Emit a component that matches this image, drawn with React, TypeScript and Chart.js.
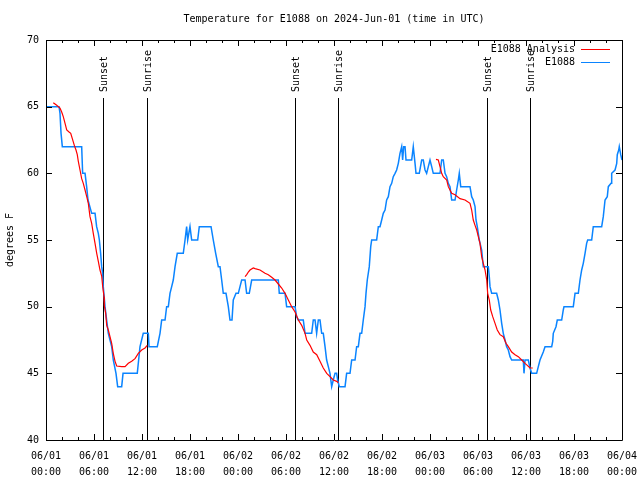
import { useEffect, useRef } from "react";
import { Chart, registerables } from "chart.js";

Chart.register(...registerables);

const TITLE = "Temperature for E1088 on 2024-Jun-01 (time in UTC)";
const Y_LABEL = "degrees F";
const X_MIN = 0;
const X_MAX = 72;
const Y_MIN = 40;
const Y_MAX = 70;
const DATE_LABELS = ["06/01", "06/02", "06/03", "06/04"];

const ANALYSIS_LABEL = "E1088 Analysis";
const OBS_LABEL = "E1088";
const ANALYSIS_COLOR = "#ff0000";
const OBS_COLOR = "#0a84ff";

// Sunset / sunrise markers (hours since 06/01 00:00 UTC)
const eventHours = [7.16, 12.66, 31.13, 36.54, 55.16, 60.5];
const eventLabels = ["Sunset", "Sunrise", "Sunset", "Sunrise", "Sunset", "Sunrise"];

// Observed temperature (hours since 06/01 00:00 UTC, degrees F)
const obsHours = [
  0, 1.63, 1.75, 1.88, 2.04, 4.46, 4.58, 4.88, 5.08, 5.25, 5.71, 6.13, 6.33, 6.54, 6.67, 6.83, 6.96, 7.08, 7.16, 7.38,
  7.58, 7.79, 8.0, 8.21, 8.41, 8.75, 8.96, 9.46, 9.63, 11.41, 11.75, 12.16, 12.79, 12.88, 13.91, 14.25, 14.46, 14.88, 15.08, 15.29,
  15.5, 15.71, 15.91, 16.13, 16.41, 17.16, 17.38, 17.58, 17.71, 18.0, 18.21, 18.96, 19.16, 20.63, 20.91, 21.21, 21.54, 21.75, 21.96, 22.16,
  22.5, 22.79, 23.0, 23.25, 23.41, 23.75, 24.04, 24.25, 24.46, 24.88, 25.08, 25.41, 25.71, 29.04, 29.16, 29.88, 30.08, 31.13, 31.33, 31.54,
  32.16, 32.38, 33.21, 33.41, 33.63, 33.83, 34.04, 34.25, 34.46, 34.66, 34.88, 35.08, 35.29, 35.5, 35.71, 35.91, 36.13, 36.33, 36.46, 36.66,
  37.38, 37.58, 38.0, 38.21, 38.63, 38.83, 39.04, 39.25, 39.46, 39.66, 39.88, 40.0, 40.16, 40.41, 40.59, 40.71, 41.33, 41.54, 41.75, 41.96,
  42.16, 42.38, 42.58, 42.79, 43.0, 43.21, 43.41, 43.63, 43.83, 44.04, 44.25, 44.46, 44.58, 44.71, 44.88, 45.0, 45.71, 45.91, 46.13, 46.25,
  46.66, 46.96, 47.16, 47.38, 47.58, 47.79, 48.0, 48.21, 48.41, 49.25, 49.46, 49.66, 49.88, 50.08, 50.29, 50.5, 50.71, 51.13, 51.33, 51.54,
  51.66, 51.84, 53.0, 53.21, 53.41, 53.63, 53.75, 53.91, 54.16, 54.46, 54.66, 55.29, 55.41, 55.5, 55.71, 56.33, 56.54, 56.75, 56.96, 57.16,
  57.38, 57.58, 57.79, 58.0, 58.21, 59.66, 59.75, 59.88, 60.29, 60.5, 60.71, 61.33, 61.54, 61.75, 62.16, 62.38, 63.21, 63.34, 63.41, 63.75,
  63.91, 64.46, 64.66, 64.75, 65.91, 66.13, 66.54, 66.75, 66.96, 67.16, 67.38, 67.58, 67.71, 68.21, 68.41, 69.46, 69.66, 69.88, 70.16, 70.29,
  70.63, 70.71, 71.13, 71.34, 71.41, 71.59, 71.66, 71.84, 72.0,
];
const obsTemps = [
  65, 65, 64.5, 63, 62, 62, 60, 60, 59, 58, 57, 57, 56, 55.5, 55, 54, 53, 52.5, 51.5, 50,
  49, 48, 47.5, 47, 46, 45, 44, 44, 45, 45, 47, 48, 48, 47, 47, 48, 49, 49, 50, 50,
  51, 51.5, 52, 53, 54, 54, 55, 56, 55, 56, 55, 55, 56, 56, 55, 54, 53, 53, 52, 51,
  51, 50, 49, 49, 50.5, 51, 51, 51.5, 52, 52, 51, 51, 52, 52, 51, 51, 50, 50, 49.25, 49,
  49, 48, 48, 49, 49, 48, 49, 49, 48, 48, 47, 46, 45.5, 45, 44, 44.5, 45, 45, 44.5, 44,
  44, 45, 45, 46, 46, 47, 47, 48, 48, 49, 50, 51, 52, 53, 54.5, 55, 55, 56, 56, 56.5,
  57, 57.25, 58, 58.25, 59, 59.25, 59.75, 60, 60.25, 60.75, 61.5, 62, 61, 62, 62, 61, 61, 62, 60.75, 60,
  60, 61, 61, 60.25, 60, 60.5, 61, 60.5, 60, 60, 61, 61, 60, 59.75, 59.25, 59, 58, 58, 58.75, 59.5,
  60, 59, 59, 58.25, 58, 57.5, 56.5, 56, 55, 54.25, 53, 53, 52.25, 51.5, 51, 51, 50.5, 49.75, 48.75, 48,
  47.5, 47, 46.75, 46.25, 46, 46, 45, 46, 46, 45.4, 45, 45, 45.5, 46, 46.6, 47, 47, 47.4, 48, 48.5,
  49, 49, 49.75, 50, 50, 51, 51, 52, 52.75, 53.25, 54, 54.75, 55, 55, 56, 56, 56.75, 58, 58.25, 59,
  59.25, 60, 60.25, 60.75, 61.4, 61.75, 62, 61.4, 61,
];

// Analysis temperature (null marks a break between analysis runs)
const anaHours = [
  0.91, 1.34, 1.75, 1.96, 2.16, 2.38, 2.59, 2.88, 3.09, 3.29, 3.54, 3.75, 3.91, 4.04, 4.25, 4.46, 4.66, 4.88, 5.09, 5.29,
  5.5, 5.71, 5.91, 6.13, 6.34, 6.54, 6.75, 6.96, 7.09, 7.25, 7.29, 7.46, 7.59, 7.79, 8.0, 8.21, 8.41, 8.63, 8.84, 9.46,
  9.88, 10.29, 10.71, 11.13, 11.54, 11.96, 12.38, 12.66,
  18.0,
  24.88, 25.09, 25.29, 25.5, 25.91, 26.13, 26.75, 27.38, 27.79, 28.21, 28.63, 29.04, 29.46, 29.88, 30.29, 30.71, 31.13, 31.54, 31.96, 32.38,
  32.59, 33.0, 33.41, 33.84, 34.25, 34.66, 35.09, 35.5, 35.91, 36.34, 36.54,
  42.0,
  48.75, 49.04, 49.25, 49.46, 49.66, 50.09, 50.29, 50.5, 50.71, 51.13, 51.75, 52.38, 53.0, 53.21, 53.41, 53.63, 53.84, 54.04, 54.25, 54.46,
  54.66, 54.88, 55.09, 55.21, 55.41, 55.59, 55.84, 56.13, 56.41, 56.75, 57.16, 57.5, 57.79, 58.21, 58.63, 59.04, 59.46, 59.88, 60.16, 60.5,
  60.84,
];
const anaTemps = [
  65.3, 65.1, 64.9, 64.6, 64.25, 63.75, 63.25, 63.1, 63, 62.6, 62.1, 61.75, 61.4, 60.9, 60.25, 59.6, 59.25, 58.75, 58.25, 57.75,
  56.75, 56.25, 55.5, 54.75, 54, 53.4, 52.75, 52.3, 51.5, 50.75, 50.1, 49.5, 48.6, 48.25, 47.75, 47.25, 46.5, 45.9, 45.55, 45.5,
  45.5, 45.75, 45.9, 46.1, 46.5, 46.75, 46.9, 47.1,
  null,
  52.25, 52.4, 52.6, 52.75, 52.9, 52.85, 52.75, 52.5, 52.4, 52.2, 52, 51.7, 51.4, 51, 50.5, 50, 49.6, 49, 48.6, 48,
  47.5, 47.1, 46.6, 46.4, 45.9, 45.4, 45, 44.75, 44.5, 44.4, 44.3,
  null,
  61.05, 61, 60.5, 60, 59.75, 59.5, 59, 58.75, 58.5, 58.4, 58.1, 58, 57.75, 57.25, 56.5, 56.1, 55.75, 55.25, 54.75, 53.75,
  53.25, 52.75, 52, 51, 50.5, 49.75, 49.25, 48.75, 48.25, 47.9, 47.75, 47.25, 47, 46.6, 46.4, 46.25, 46, 45.75, 45.6, 45.4,
  45.4,
];

const FONT_FAMILY = "'DejaVu Sans Mono', 'Liberation Mono', monospace";

function pad2(n: number) {
  return (n < 10 ? "0" : "") + n;
}

const framePlugin = {
  id: "gnuplotFrame",
  beforeDatasetsDraw(chart: any) {
    const { ctx, chartArea, scales } = chart;
    const xs = scales.x;
    ctx.save();
    ctx.strokeStyle = "#000";
    ctx.lineWidth = 1;
    ctx.fillStyle = "#000";
    ctx.font = "10px " + FONT_FAMILY;
    eventHours.forEach((h, i) => {
      const px = Math.round(xs.getPixelForValue(h)) + 0.5;
      ctx.beginPath();
      ctx.moveTo(px, 98);
      ctx.lineTo(px, chartArea.bottom);
      ctx.stroke();
      ctx.save();
      ctx.translate(px + 1, 92);
      ctx.rotate(-Math.PI / 2);
      ctx.textAlign = "left";
      ctx.textBaseline = "middle";
      ctx.fillText(eventLabels[i], 0, 0);
      ctx.restore();
    });
    ctx.restore();
  },
  afterDraw(chart: any) {
    const { ctx, chartArea, scales } = chart;
    const { left, right, top, bottom } = chartArea;
    const xs = scales.x;
    const ys = scales.y;
    ctx.save();
    // title centred over the plot area
    ctx.fillStyle = "#000";
    ctx.font = "10px " + FONT_FAMILY;
    ctx.textAlign = "center";
    ctx.textBaseline = "middle";
    ctx.fillText(TITLE, (left + right) / 2, 19);

    ctx.strokeStyle = "#000";
    ctx.lineWidth = 1;
    ctx.beginPath();
    ctx.rect(Math.round(left) + 0.5, Math.round(top) + 0.5, Math.round(right - left), Math.round(bottom - top));
    ctx.stroke();
    // x ticks (inward, top and bottom)
    ctx.beginPath();
    for (let h = X_MIN; h <= X_MAX; h += 2) {
      const px = Math.round(xs.getPixelForValue(h)) + 0.5;
      const len = h % 6 === 0 ? 6 : 3;
      ctx.moveTo(px, bottom);
      ctx.lineTo(px, bottom - len);
      ctx.moveTo(px, top);
      ctx.lineTo(px, top + len);
    }
    // y ticks (inward, left and right)
    for (let v = Y_MIN; v <= Y_MAX; v += 5) {
      const py = Math.round(ys.getPixelForValue(v)) + 0.5;
      ctx.moveTo(left, py);
      ctx.lineTo(left + 6, py);
      ctx.moveTo(right, py);
      ctx.lineTo(right - 6, py);
    }
    ctx.stroke();
    // legend (gnuplot style: text then sample line)
    ctx.textAlign = "right";
    ctx.textBaseline = "middle";
    chart.data.datasets.forEach((ds: any, i: number) => {
      const y = 49 + i * 13;
      ctx.fillStyle = "#000";
      ctx.fillText(ds.label, 575, y);
      ctx.strokeStyle = ds.borderColor;
      ctx.lineWidth = 1;
      ctx.beginPath();
      ctx.moveTo(581, Math.round(y) + 0.5);
      ctx.lineTo(610, Math.round(y) + 0.5);
      ctx.stroke();
    });
    ctx.restore();
  },
};

export default function App() {
  const canvasRef = useRef<HTMLCanvasElement | null>(null);

  useEffect(() => {
    document.body.style.margin = "0";
    const canvas = canvasRef.current;
    if (!canvas) return;
    const analysisData = anaHours.map((h, i) => ({ x: h, y: anaTemps[i] }));
    const obsData = obsHours.map((h, i) => ({ x: h, y: obsTemps[i] }));

    const chart = new Chart(canvas, {
      type: "line",
      data: {
        datasets: [
          {
            label: ANALYSIS_LABEL,
            data: analysisData as any,
            borderColor: ANALYSIS_COLOR,
            backgroundColor: ANALYSIS_COLOR,
            borderWidth: 1.2,
            pointRadius: 0,
            tension: 0,
            spanGaps: false,
          },
          {
            label: OBS_LABEL,
            data: obsData as any,
            borderColor: OBS_COLOR,
            backgroundColor: OBS_COLOR,
            borderWidth: 1.5,
            pointRadius: 0,
            tension: 0,
          },
        ],
      },
      options: {
        animation: false,
        responsive: false,
        maintainAspectRatio: false,
        devicePixelRatio: 1,
        layout: { padding: { left: 0, right: 18, top: 40, bottom: 0 } },
        plugins: {
          legend: { display: false },
          tooltip: { enabled: false },
          title: { display: false },
        },
        scales: {
          x: {
            type: "linear",
            min: X_MIN,
            max: X_MAX,
            grid: { display: false, drawTicks: false },
            border: { display: false },
            afterFit: (s: any) => {
              s.height = 40;
              s.paddingLeft = 0;
              s.paddingRight = 0;
            },
            ticks: {
              stepSize: 6,
              autoSkip: false,
              maxRotation: 0,
              minRotation: 0,
              padding: 9,
              color: "#000",
              font: { family: FONT_FAMILY, size: 10, lineHeight: 1.55 },
              callback: (v: any) => {
                const h = Number(v);
                return [DATE_LABELS[Math.floor(h / 24)], pad2(h % 24) + ":00"];
              },
            },
          },
          y: {
            type: "linear",
            min: Y_MIN,
            max: Y_MAX,
            grid: { display: false, drawTicks: false },
            border: { display: false },
            afterFit: (s: any) => {
              s.width = 46;
              s.paddingTop = 0;
              s.paddingBottom = 0;
            },
            title: {
              display: true,
              text: Y_LABEL,
              color: "#000",
              font: { family: FONT_FAMILY, size: 10, lineHeight: 1.2 },
              padding: { top: 4, bottom: 0 },
            },
            ticks: {
              stepSize: 5,
              padding: 7,
              color: "#000",
              font: { family: FONT_FAMILY, size: 10 },
            },
          },
        },
      },
      plugins: [framePlugin],
    });
    return () => chart.destroy();
  }, []);

  return (
    <div style={{ width: 640, height: 480 }}>
      <canvas ref={canvasRef} width={640} height={480} style={{ display: "block" }} />
    </div>
  );
}
